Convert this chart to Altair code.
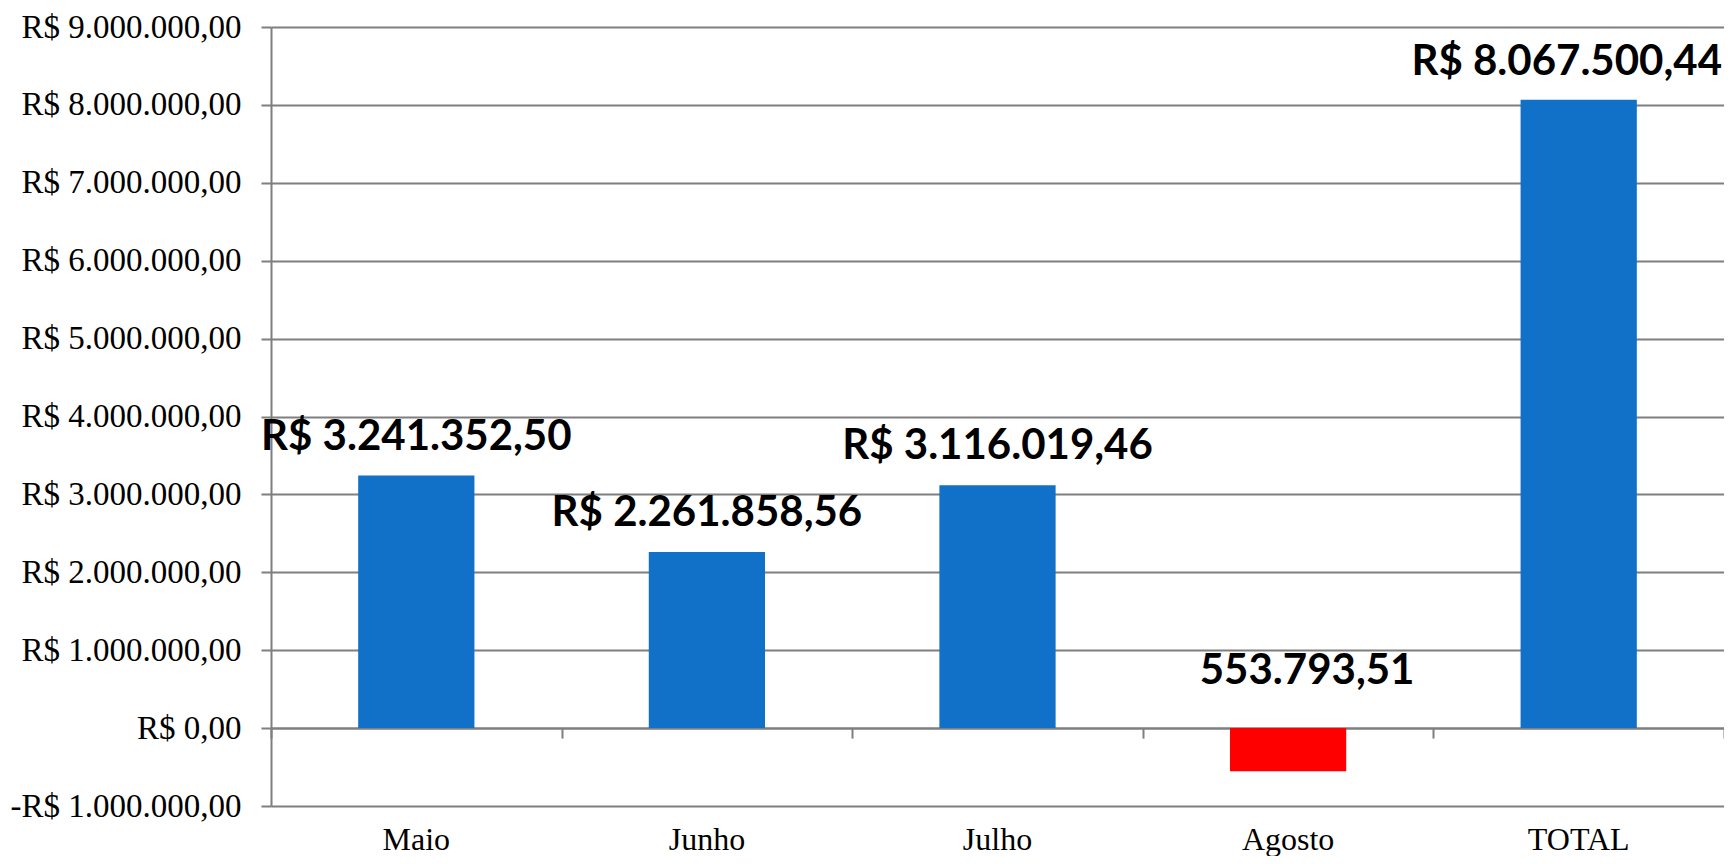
import altair as alt
import pandas as pd

categories = ["Maio", "Junho", "Julho", "Agosto", "TOTAL"]
values = [3241352.50, 2261858.56, 3116019.46, -553793.51, 8067500.44]
labels = ["R$ 3.241.352,50", "R$ 2.261.858,56", "R$ 3.116.019,46", "553.793,51", "R$ 8.067.500,44"]
bar_colors = ["#1170C8", "#1170C8", "#1170C8", "#FF0000", "#1170C8"]
y_ticks = [-1000000, 0, 1000000, 2000000, 3000000, 4000000, 5000000,
           6000000, 7000000, 8000000, 9000000]

df = pd.DataFrame({"cat": categories, "v": values, "lab": labels, "col": bar_colors})

W, H = 1453, 779
GRID = "#7F7F7F"
SERIF = "Liberation Serif"

x_scale = alt.Scale(domain=categories, paddingInner=0.6, paddingOuter=0.3)
x_scale_full = alt.Scale(domain=categories, paddingInner=0, paddingOuter=0)
y_scale = alt.Scale(domain=[y_ticks[0], y_ticks[-1]], nice=False, zero=False)

label_expr = ("(datum.value < 0 ? '-' : '') + 'R$ ' + "
              "replace(replace(replace(format(abs(datum.value), ',.2f'), "
              "regexp(',', 'g'), '#'), regexp('[.]', 'g'), ','), regexp('#', 'g'), '.')")

base = alt.Chart(df)

bars = base.mark_bar().encode(
    x=alt.X("cat:N", sort=categories, scale=x_scale,
            axis=alt.Axis(orient="bottom", labelAngle=0, domain=False, ticks=False, tickSize=0,
                          labelPadding=18, labelFont=SERIF, labelFontSize=32,
                          labelColor="black", grid=False, title=None)),
    y=alt.Y("v:Q", scale=y_scale,
            axis=alt.Axis(values=y_ticks, labelExpr=label_expr, labelFont=SERIF,
                          labelFontSize=33, labelColor="black", labelPadding=20,
                          labelLimit=0,
                          tickSize=10, tickColor=GRID, tickWidth=2,
                          domainColor=GRID, domainWidth=2,
                          grid=True, gridColor=GRID, gridWidth=2, title=None)),
    color=alt.Color("col:N", scale=None),
)

# invisible layer that carries the x axis line at zero with ticks between categories
zero_axis = base.mark_bar(opacity=0).encode(
    x=alt.X("cat:N", sort=categories, scale=x_scale_full,
            axis=alt.Axis(orient="bottom", offset=-H / 10, labels=False, ticks=True,
                          tickBand="extent", tickSize=10, tickColor=GRID, tickWidth=2,
                          domain=True, domainColor=GRID, domainWidth=2, grid=False,
                          title=None)),
    y=alt.Y("v:Q", scale=y_scale, axis=None),
)

def text_layer(filt, dx, dy):
    return base.transform_filter(filt).transform_calculate(
        ly="max(datum.v, 0)"
    ).mark_text(font="Lato", fontSize=42, fontWeight="bold", color="black",
                baseline="alphabetic", align="center", dx=dx, dy=dy).encode(
        x=alt.X("cat:N", sort=categories, scale=x_scale, axis=None),
        y=alt.Y("ly:Q", scale=y_scale, axis=None),
        text="lab:N",
    )

t_months = text_layer("datum.cat == 'Maio' || datum.cat == 'Junho' || datum.cat == 'Julho'", 0, -26)
t_neg = text_layer("datum.cat == 'Agosto'", 19, -44)
t_total = text_layer("datum.cat == 'TOTAL'", -12, -25)

chart = alt.layer(bars, zero_axis, t_months, t_neg, t_total).resolve_scale(
    x="independent"
).resolve_axis(
    x="independent", y="independent"
).properties(
    width=W, height=H,
    autosize=alt.AutoSizeParams(type="none"),
    padding={"left": 263, "top": 19, "right": 0, "bottom": 50},
).configure_view(strokeWidth=0)

chart.save("out.html", embed_options={"renderer": "svg", "actions": False})
